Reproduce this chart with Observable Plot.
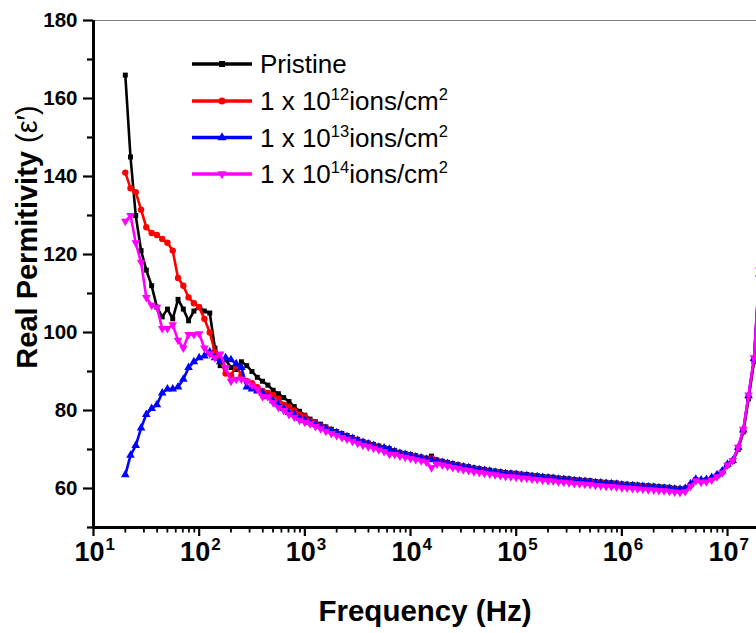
<!DOCTYPE html>
<html>
<head>
<meta charset="utf-8">
<script src="https://cdn.jsdelivr.net/npm/d3@7"></script>
<script src="https://cdn.jsdelivr.net/npm/@observablehq/plot@0.6"></script>
<style>
  html, body { margin: 0; padding: 0; background: #fff; }
  #chart { width: 756px; height: 633px; }
</style>
</head>
<body>
<div id="chart"></div>
<script>
// Frequencies (Hz)
const freq = [
  20, 22.4, 25.1, 28.2, 31.6, 35.5, 39.8, 44.7, 50.1, 56.2, 63.1, 70.8, 79.4, 89.1,
  100, 112, 126, 141, 158, 178, 200, 224, 251, 282, 316, 355, 398, 447, 501, 562, 631, 708, 794, 891,
  1e3, 1.12e3, 1.26e3, 1.41e3, 1.58e3, 1.78e3, 2e3, 2.24e3, 2.51e3, 2.82e3, 3.16e3, 3.55e3, 3.98e3, 4.47e3, 5.01e3, 5.62e3, 6.31e3, 7.08e3, 7.94e3, 8.91e3,
  1e4, 1.12e4, 1.26e4, 1.41e4, 1.58e4, 1.78e4, 2e4, 2.24e4, 2.51e4, 2.82e4, 3.16e4, 3.55e4, 3.98e4, 4.47e4, 5.01e4, 5.62e4, 6.31e4, 7.08e4, 7.94e4, 8.91e4,
  1e5, 1.12e5, 1.26e5, 1.41e5, 1.58e5, 1.78e5, 2e5, 2.24e5, 2.51e5, 2.82e5, 3.16e5, 3.55e5, 3.98e5, 4.47e5, 5.01e5, 5.62e5, 6.31e5, 7.08e5, 7.94e5, 8.91e5,
  1e6, 1.12e6, 1.26e6, 1.41e6, 1.58e6, 1.78e6, 2e6, 2.24e6, 2.51e6, 2.82e6, 3.16e6, 3.55e6, 3.98e6, 4.47e6, 5.01e6, 5.62e6, 6.31e6, 7.08e6, 7.94e6, 8.91e6,
  1e7, 1.12e7, 1.26e7, 1.41e7, 1.58e7, 1.78e7, 2e7
];

const pristine = [
  166, 145, 130, 121, 116, 112, 106.5, 104, 106, 103.5, 108.5, 106, 103, 105.5,
  106.5, 105.5, 105, 96, 91.5, 93, 91, 90.5, 92.5, 91.5, 90, 88.5, 87.5, 86.5, 85.2, 84.3, 83.3, 82.3, 81, 79.8,
  78.8, 77.8, 77.1, 76.5, 75.8, 75.2, 74.6, 74.1, 73.6, 73.1, 72.6, 72.1, 71.7, 71.3, 70.9, 70.5, 70.2, 69.7, 69.3, 69.0,
  68.7, 68.4, 68.1, 67.8, 68.3, 67.3, 67.0, 66.7, 66.4, 66.1, 65.8, 65.6, 65.3, 65.1, 64.9, 64.7, 64.5, 64.3, 64.1, 64.0,
  63.9, 63.7, 63.6, 63.4, 63.3, 63.1, 63.0, 62.9, 62.7, 62.6, 62.5, 62.3, 62.2, 62.1, 62.0, 61.8, 61.7, 61.6, 61.5, 61.4,
  61.2, 61.1, 61.0, 60.9, 60.8, 60.7, 60.6, 60.5, 60.4, 60.3, 60.1, 60.0, 60.1, 61.0, 62.3, 62.1, 62.2, 62.6, 63.3, 64.3,
  66.0, 67.0, 70.0, 74.5, 83.0, 92.5, 114
];

const ions12 = [
  141, 137, 136, 131.5, 127, 125.5, 125, 124, 123, 121, 114, 112, 109, 107.5,
  106.5, 103.5, 100, 95, 93, 89.5, 89, 91.5, 89, 87.5, 87, 86, 85, 84.5, 84, 83, 81.5, 81, 80, 79,
  78.5, 77.4, 76.8, 76.1, 75.5, 74.9, 74.3, 73.8, 73.3, 72.8, 72.3, 71.8, 71.4, 71.0, 70.6, 70.2, 69.9, 69.4, 69.0, 68.7,
  68.4, 68.1, 67.8, 67.5, 67.8, 67.0, 66.7, 66.4, 66.1, 65.8, 65.5, 65.3, 65.0, 64.8, 64.6, 64.4, 64.2, 64.0, 63.8, 63.7,
  63.6, 63.4, 63.3, 63.1, 63.0, 62.8, 62.7, 62.6, 62.4, 62.3, 62.2, 62.0, 61.9, 61.8, 61.7, 61.5, 61.4, 61.3, 61.2, 61.1,
  60.9, 60.8, 60.7, 60.6, 60.5, 60.4, 60.3, 60.2, 60.1, 60.0, 59.8, 59.7, 59.9, 60.9, 62.2, 62.0, 62.1, 62.5, 63.2, 64.2,
  66.0, 67.1, 70.3, 74.8, 83.5, 93.0, 115
];

const ions13 = [
  63.5, 68.5, 71, 75.5, 79, 80.5, 81.5, 84.5, 85.5, 85.5, 86, 88, 91, 92.5,
  93.5, 94, 95, 93.5, 92.5, 93.5, 93, 92, 91, 86, 85.5, 85, 84.5, 83.5, 82.5, 81.5, 80.5, 79.5, 79, 78,
  77.5, 77.0, 76.5, 75.9, 75.4, 74.8, 74.3, 73.8, 73.3, 72.8, 72.3, 71.8, 71.4, 71.0, 70.6, 70.4, 70.1, 69.4, 69.0, 68.7,
  68.4, 68.1, 67.8, 67.5, 67.4, 67.0, 66.7, 66.4, 66.1, 65.8, 65.5, 65.3, 65.0, 64.8, 64.6, 64.4, 64.2, 64.0, 63.8, 63.7,
  63.6, 63.4, 63.3, 63.1, 63.0, 62.8, 62.7, 62.6, 62.4, 62.3, 62.2, 62.0, 61.9, 61.8, 61.7, 61.5, 61.4, 61.3, 61.2, 61.1,
  60.9, 60.8, 60.7, 60.6, 60.5, 60.4, 60.3, 60.2, 60.1, 60.0, 59.8, 59.8, 60.0, 61.2, 62.4, 62.2, 62.3, 62.8, 63.5, 64.5,
  66.2, 67.2, 70.5, 75.0, 83.8, 93.3, 115
];

const ions14 = [
  128.5, 130, 123, 118, 109, 107, 106.5, 101, 101, 102, 98, 96, 99.5, 99.5,
  99.7, 96, 94.5, 93.5, 94.5, 91, 87.5, 88, 88, 87.5, 86.5, 85.5, 83.5, 83.5, 82, 80.8, 80, 79, 78.3, 77.5,
  77, 76.6, 75.9, 75.3, 74.7, 74.1, 73.6, 73.1, 72.6, 72.1, 71.6, 71.1, 70.7, 70.3, 69.9, 69.5, 68.8, 68.7, 68.3, 68.0,
  67.7, 67.4, 67.1, 66.8, 65.3, 66.3, 66.0, 65.7, 65.4, 65.1, 64.8, 64.6, 64.3, 64.1, 63.9, 63.7, 63.5, 63.3, 63.1, 63.0,
  62.9, 62.7, 62.6, 62.4, 62.3, 62.1, 62.0, 61.9, 61.7, 61.6, 61.5, 61.3, 61.2, 61.1, 61.0, 60.8, 60.7, 60.6, 60.5, 60.4,
  60.2, 60.1, 60.0, 59.9, 59.8, 59.7, 59.6, 59.5, 59.4, 59.3, 59.1, 59.0, 59.2, 60.6, 62.0, 61.6, 61.7, 62.2, 63.0, 64.0,
  66.0, 67.2, 70.6, 75.2, 84.0, 93.5, 116
];

const seriesNames = ["Pristine", "1e12", "1e13", "1e14"];
const seriesValues = [pristine, ions12, ions13, ions14];
const seriesColors = ["#000000", "#ff0000", "#0000ff", "#ff00ff"];
const seriesSymbols = ["square", "circle", "triangle", "triangle"];
const seriesRotate = [0, 0, 0, 180];
const legendExp = [null, "12", "13", "14"];

const yMajor = [60, 80, 100, 120, 140, 160, 180];
const yMinor = [50, 70, 90, 110, 130, 150, 170];
const xMajor = [1e1, 1e2, 1e3, 1e4, 1e5, 1e6, 1e7];
const xExp = ["1", "2", "3", "4", "5", "6", "7"];
const xMinor = [];
[1e1, 1e2, 1e3, 1e4, 1e5, 1e6, 1e7].forEach(d => [2,3,4,5,6,7,8,9].forEach(m => xMinor.push(d * m)));

const FONT = "'Liberation Sans', Arial, sans-serif";

const table = [];
seriesNames.forEach((s, k) => freq.forEach((f, i) => table.push({s, f, v: seriesValues[k][i]})));

const marks = [
  Plot.ruleY([180], {stroke: "#808080", strokeWidth: 1}),
];
seriesNames.forEach((s, k) => {
  const data = table.filter(d => d.s === s);
  marks.push(Plot.line(data, {x: "f", y: "v", stroke: seriesColors[k], strokeWidth: 2.6, clip: true}));
  marks.push(Plot.dot(data, {x: "f", y: "v", symbol: seriesSymbols[k], fill: seriesColors[k], stroke: "none",
    r: seriesSymbols[k] === "square" ? 2.8 : 3.2, rotate: seriesRotate[k], clip: true}));
});
marks.push(
  Plot.axisY(yMajor, {tickSize: 10, tickPadding: 6, fontSize: 20.5, fontWeight: "bold", strokeWidth: 2.2, label: null}),
  Plot.axisY(yMinor, {tickSize: 6, tickFormat: () => "", strokeWidth: 2.2, label: null}),
  Plot.axisX(xMajor, {tickSize: 9, tickFormat: () => "", strokeWidth: 2.2, label: null}),
  Plot.axisX(xMinor.filter(d => d < 1.88e7), {tickSize: 5.5, tickFormat: () => "", strokeWidth: 1.8, label: null}),
  Plot.ruleX([10], {strokeWidth: 3}),
  Plot.ruleY([50], {strokeWidth: 3}),
  Plot.text(xMajor, {x: d => d, frameAnchor: "bottom", text: () => "10", textAnchor: "end", dx: 11, dy: 33,
    fontSize: 27, fontWeight: "bold"}),
  Plot.text(xMajor, {x: d => d, frameAnchor: "bottom", text: (d, i) => xExp[i], textAnchor: "start", dx: 12, dy: 22,
    fontSize: 17, fontWeight: "bold"})
);

const plot = Plot.plot({
  width: 756,
  height: 633,
  marginLeft: 93,
  marginRight: 0,
  marginTop: 20,
  marginBottom: 106,
  style: {fontFamily: FONT, color: "#000", background: "#fff", overflow: "hidden"},
  x: {type: "log", domain: [10, 1.88e7]},
  y: {domain: [50, 180]},
  marks
});
document.getElementById("chart").appendChild(plot);

const svg = d3.select(plot);
// Axis titles
svg.append("text")
  .attr("x", 425).attr("y", 621)
  .attr("text-anchor", "middle")
  .attr("font-family", FONT).attr("font-size", 29.5).attr("font-weight", "bold")
  .attr("fill", "#000")
  .text("Frequency (Hz)");
const yt = svg.append("text")
  .attr("transform", "translate(37,237) rotate(-90)")
  .attr("text-anchor", "middle")
  .attr("font-family", FONT).attr("font-size", 29).attr("font-weight", "bold")
  .attr("fill", "#000");
yt.append("tspan").text("Real Permitivity ");
yt.append("tspan").attr("font-weight", "normal").text("(ε′)");

// Legend
const legendY = [64, 101, 137.5, 174];
const symType = {square: d3.symbolSquare, circle: d3.symbolCircle, triangle: d3.symbolTriangle};
const lg = svg.append("g").attr("font-family", FONT).attr("fill", "#000").attr("text-anchor", "start");
seriesNames.forEach((s, k) => {
  const y = legendY[k];
  lg.append("line").attr("x1", 192).attr("x2", 252).attr("y1", y).attr("y2", y)
    .attr("stroke", seriesColors[k]).attr("stroke-width", 3.5);
  lg.append("path")
    .attr("d", d3.symbol().type(symType[seriesSymbols[k]]).size(seriesSymbols[k] === "circle" ? 40 : 36)())
    .attr("transform", `translate(222,${y}) rotate(${seriesRotate[k]})`)
    .attr("fill", seriesColors[k]);
  const t = lg.append("text").attr("x", 260).attr("y", y + 9).attr("font-size", 26).attr("text-anchor", "start");
  if (legendExp[k] === null) {
    t.text(s);
  } else {
    t.append("tspan").text("1 x 10");
    t.append("tspan").attr("font-size", 16.5).attr("dy", -10).text(legendExp[k]);
    t.append("tspan").attr("font-size", 26).attr("dy", 10).text("ions/cm");
    t.append("tspan").attr("font-size", 16.5).attr("dy", -10).text("2");
  }
});
</script>
</body>
</html>
